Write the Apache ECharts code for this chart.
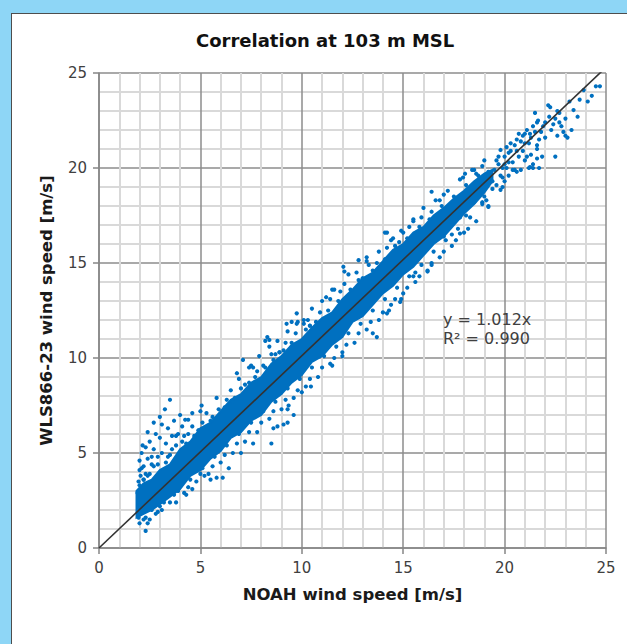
<!DOCTYPE html>
<html>
<head>
<meta charset="utf-8">
<script src="https://cdn.jsdelivr.net/npm/echarts@6/dist/echarts.min.js"></script>
<style>
  html, body { margin: 0; padding: 0; width: 627px; height: 644px; overflow: hidden; background: #8ed6f6; }
  #panel { position: absolute; left: 11px; top: 13px; width: 700px; height: 700px; background: #ffffff; border-left: 1px solid #4d4d4d; border-top: 1px solid #4d4d4d; }
  #chart { position: absolute; left: 0; top: 0; width: 627px; height: 644px; }
</style>
</head>
<body>
<div id="panel"></div>
<div id="chart"></div>
<script>
// ---- tick labels / axis ranges ----
const axisTicks = [0, 5, 10, 15, 20, 25];

// ---- dense core of the cloud ----
const bandX    = [1.85, 2.2, 2.6, 3.0, 3.5, 4.0, 4.5, 5.0, 5.5, 6.0, 6.5, 7.0, 7.5, 8.0, 8.5, 9.0, 9.5, 10.0, 10.5, 11.0, 11.5, 12.0, 12.5, 13.0, 13.5, 14.0, 14.5, 15.0, 15.5, 16.0, 16.5, 17.0, 17.5, 18.0, 18.5, 19.0, 19.4];
const bandHigh = [3.0, 3.4, 3.6, 4.1, 4.4, 5.2, 5.6, 6.3, 6.6, 7.2, 7.8, 8.1, 8.7, 9.0, 9.7, 10.1, 10.7, 11.0, 11.6, 12.1, 12.4, 13.1, 13.6, 14.2, 14.5, 15.1, 15.7, 16.0, 16.6, 16.9, 17.5, 17.9, 18.4, 18.8, 19.3, 19.7, 19.9];
const bandLow  = [1.6, 1.8, 2.0, 2.3, 2.7, 3.1, 3.8, 4.1, 4.7, 5.1, 5.8, 6.1, 6.7, 7.0, 7.7, 8.1, 8.7, 9.1, 9.8, 10.1, 10.7, 11.1, 11.9, 12.2, 12.8, 13.4, 13.8, 14.4, 14.8, 15.4, 16.0, 16.4, 17.0, 17.6, 18.1, 18.7, 19.3];

// ---- individual points around the core ----
const upperFringe = [
  [2.2,3.6],[2.7,4.3],[3.3,4.5],[3.6,5.2],[4.3,5.5],[4.6,6.4],[4.9,6.2],[5.3,7.1],[5.6,6.9],[5.8,7.9],
  [6.2,7.4],[6.5,8.3],[6.7,7.9],[6.9,8.9],[7.2,8.6],[7.5,9.6],[7.7,9.0],[7.9,10.1],[8.2,9.5],[8.4,10.6],
  [8.6,9.9],[8.8,10.9],[9.1,10.4],[9.3,11.4],[9.5,10.8],[9.8,11.9],[10.2,11.5],[10.5,12.6],[10.7,11.9],[11.0,13.0],
  [11.3,12.5],[11.5,13.6],[11.8,13.0],[12.1,13.9],[12.4,13.6],[12.7,14.5],[13.0,14.2],[13.2,15.1],[13.5,14.6],[13.8,15.6],
  [14.1,15.2],[14.4,16.2],[14.6,15.9],[14.9,16.7],[15.2,16.3],[15.5,17.2],[15.8,16.9],[16.0,17.9],[16.3,17.3],[16.6,18.3],
  [16.9,18.0],[17.2,18.8],[17.5,18.5],[17.8,19.4],[18.1,19.1],[18.4,19.9],[18.7,19.6],[19.0,20.4],
  [2.0,3.3],[2.1,4.2],[2.4,3.8],[2.6,4.8],[2.9,4.4],[3.1,5.0],[3.4,4.8],[3.8,5.9],[4.1,5.6],[4.4,6.0],
  [4.7,5.9],[5.1,6.6],[5.5,6.7],[5.9,7.3],[6.3,7.8],[6.6,7.7],[7.0,8.4],[7.4,8.7],[7.8,9.3],[8.1,9.6],
  [8.5,10.2],[8.9,10.3],[9.2,10.8],[9.7,11.3],[10.1,11.8],[10.4,11.7],[10.9,12.4],[11.4,13.1],[11.9,13.5],[12.3,14.4],
  [12.8,14.1],[13.3,14.9],[13.7,15.0],[14.2,15.8],[14.8,16.1],[15.3,16.9],[15.9,17.4],[16.4,17.7],[17.0,18.6]
];
const lowerFringe = [
  [2.3,1.6],[2.6,2.0],[2.9,1.9],[3.2,2.4],[3.5,2.4],[3.9,3.0],[4.2,2.9],[4.5,3.6],[4.8,3.5],[5.1,4.2],
  [5.4,3.9],[5.7,4.8],[6.0,4.5],[6.3,5.4],[6.6,5.0],[6.9,6.0],[7.2,5.6],[7.5,6.6],[7.8,6.1],[8.1,7.2],
  [8.4,6.8],[8.7,7.7],[9.0,7.3],[9.3,8.4],[9.6,7.9],[9.9,8.9],[10.2,8.5],[10.5,9.5],[10.8,9.0],[11.1,10.1],
  [11.4,9.7],[11.7,10.6],[12.0,10.3],[12.3,11.3],[12.6,10.8],[12.9,11.8],[13.2,11.5],[13.5,12.5],[13.8,12.0],[14.1,13.1],
  [14.4,12.8],[14.7,13.7],[15.0,13.4],[15.3,14.3],[15.6,14.0],[15.9,14.9],[16.2,14.6],[16.5,15.6],[16.8,15.3],[17.1,16.2],
  [17.4,15.9],[17.7,16.8],[18.0,16.6],[18.3,17.4],[18.6,17.2],[18.9,18.1],[19.2,18.0],
  [2.5,1.5],[3.0,2.2],[3.7,2.8],[4.4,3.2],[5.0,3.9],[5.6,4.3],[6.2,4.9],[6.8,5.5],[7.4,6.1],[8.0,6.6],
  [8.6,7.2],[9.2,7.8],[9.8,8.3],[10.4,8.9],[11.0,9.5],[11.6,10.0],[12.2,10.7],[12.8,11.3],[13.4,11.9],[14.0,12.4],
  [14.6,13.1],[15.2,13.7],[15.8,14.3],[16.4,14.9],[17.0,15.6],[17.6,16.2],[18.2,16.8]
];
const outliers = [
  // low speed, upward spread
  [2.0,4.6],[2.1,5.0],[2.2,4.3],[2.3,5.3],[2.4,4.7],[2.5,5.6],[2.3,3.9],[2.6,4.4],[2.7,5.2],[2.8,6.0],
  [2.9,4.8],[3.0,5.8],[3.1,6.5],[3.25,7.3],[3.0,6.9],[3.3,5.5],[3.4,6.3],[3.5,4.9],[3.6,5.9],[3.7,6.7],
  [3.8,5.4],[3.9,6.0],[4.0,7.0],[4.1,6.4],[4.2,5.9],[4.25,6.75],[4.4,6.75],[2.2,3.6],[2.5,3.9],[1.95,3.5],
  [2.0,4.1],[2.15,5.4],[2.4,6.1],[2.7,6.6],[3.5,7.8],[4.6,7.1],[5.0,7.2],[5.06,7.5],[1.9,2.9],[2.05,3.8],
  // low speed, downward
  [2.0,1.3],[2.3,0.9],[2.2,1.5],[2.4,1.3],[2.8,1.8],[3.1,2.0],[3.8,2.4],[4.3,2.8],[4.6,3.1],[1.95,1.6],
  [5.2,3.8],[5.5,3.6],[5.8,3.7],[6.1,3.7],[6.4,4.2],[7.0,5.0],[7.6,5.5],
  // mid upper
  [6.8,9.2],[7.1,9.9],[7.4,9.5],[7.6,9.5],[8.2,10.9],[8.3,11.1],[8.4,10.95],[8.7,10.2],[8.9,10.3],[9.25,11.8],
  [9.5,11.9],[9.75,11.8],[9.75,12.35],[10.1,12.0],[10.3,12.0],[10.4,11.7],[11.2,13.2],[11.6,13.6],[12.05,14.8],[12.1,14.55],
  [12.8,15.15],[13.2,15.3],[14.1,16.6],[14.2,16.6],[14.5,16.3],[15.0,16.6],[15.5,17.3],[16.4,18.75],[16.8,18.3],[17.95,19.5],
  [18.05,19.7],[18.5,19.9],[18.6,19.7],[18.9,20.1],[19.8,20.95],[20.1,21.1],[20.3,21.3],[20.6,21.5],[20.9,21.7],[21.25,21.8],
  // mid lower
  [8.5,5.5],[8.6,6.3],[8.8,6.4],[9.1,6.5],[9.3,6.6],[9.6,7.0],[9.3,7.3],[9.35,7.5],[10.0,8.2],[10.45,8.5],
  [11.5,9.6],[12.0,10.1],[13.5,11.3],[13.7,11.1],[14.2,12.35],[14.3,12.5],[14.85,12.95],[14.9,13.1],[15.5,14.3],[15.6,14.5],
  [16.2,14.55],[16.4,15.0],[17.0,16.4],[17.4,16.5],[17.8,16.55],[17.8,17.4],[18.1,17.5],[18.9,18.2],[19.0,18.5],[19.1,18.3],
  [19.2,17.95],[19.8,18.85],[19.9,19.0],[20.6,19.8],[20.8,19.9],[21.25,20.05],[21.4,20.2],[21.6,20.5],
  // high speed, sparse
  [19.3,19.4],[19.5,19.9],[19.6,20.4],[19.8,19.6],[20.0,20.6],[20.1,20.0],[20.3,20.9],[20.4,20.3],[20.5,21.2],[20.7,20.6],
  [20.8,21.4],[20.9,20.9],[21.0,21.8],[21.2,21.3],[21.3,20.7],[21.5,21.9],[21.7,21.5],[21.9,22.2],[22.0,21.6],[22.2,22.7],
  [22.4,22.3],[21.1,22.0],[21.6,22.4],[21.65,22.5],[21.5,22.9],[22.15,23.3],[22.25,23.2],[22.7,22.9],[23.4,23.05],[23.6,22.7],
  [23.7,23.6],[24.1,23.5],[24.3,23.8],[24.5,24.3],[24.7,24.3],[22.5,22.6],[22.7,22.4],[22.8,22.2],[22.9,21.9],[23.0,21.7],
  [23.1,21.6],[22.5,20.6],[21.7,20.0],[21.4,20.0],[21.2,20.0],[21.85,20.6],[21.6,21.0],[21.6,21.2],[19.4,18.9],[19.7,20.2],
  [20.2,19.6],[20.5,19.9],[20.0,19.3],[22.6,21.7],[23.3,22.0],[21.0,20.4],[20.2,20.3],[19.9,20.0],
  [18.3,18.9],[18.5,18.2],[18.8,19.3],[19.1,19.0],[19.2,19.8],[19.4,19.3],[19.6,19.1],[19.7,20.6],[19.9,19.5],[20.0,20.2],
  [20.2,20.8],[20.4,19.9],[20.6,20.9],[20.7,21.8],[21.0,21.3],[21.1,20.6],[21.3,21.6],[21.4,22.2],[21.8,21.9],[22.0,22.4],
  [22.3,22.0],[22.6,23.0],[23.0,22.6],[23.2,23.5],[23.9,24.1]
];

// ---- regression line and its label ----
const trendX = [0, 25];
const trendY = [0, 25.3];
const eqLines = ['y = 1.012x', 'R² = 0.990'];

const chart = echarts.init(document.getElementById('chart'), null, { renderer: 'svg' });

const FONT = "'DejaVu Sans', Verdana, sans-serif";
const pts = upperFringe.concat(lowerFringe, outliers);

function axisCfg(name, gap, rotate) {
  return {
    type: 'value', min: axisTicks[0], max: axisTicks[axisTicks.length - 1], interval: 5,
    name: name, nameLocation: 'middle', nameGap: gap, nameRotate: rotate,
    nameTextStyle: { fontFamily: FONT, fontWeight: 'bold', fontSize: 16.5, color: '#1a1a1a' },
    axisLine: { show: true, lineStyle: { color: '#868686', width: 1.5 } },
    axisTick: { show: true, length: 6, lineStyle: { color: '#868686', width: 1.5 } },
    axisLabel: { fontFamily: FONT, fontSize: 15, color: '#404040', margin: 12 },
    splitLine: { show: true, lineStyle: { color: '#8c8c8c', width: 1.5 } },
    minorTick: { show: false, splitNumber: 5 },
    minorSplitLine: { show: true, lineStyle: { color: '#d9d9d9', width: 2 } }
  };
}

const eqStyle = { fontFamily: FONT, fontWeight: 'normal', fontSize: 16, lineHeight: 17, color: '#404040' };

chart.setOption({
  backgroundColor: 'transparent',
  animation: false,
  title: [
    { text: 'Correlation at 103 m MSL', left: 191, top: 26,
      textStyle: { fontFamily: FONT, fontWeight: 'bold', fontSize: 18, color: '#111111' } },
    { text: eqLines[0], left: 438, top: 311, padding: [0, 5, 0, 5], textStyle: eqStyle },
    { text: eqLines[1], left: 438, top: 330, padding: [0, 5, 0, 5], textStyle: eqStyle }
  ],
  grid: { left: 99, right: 21, top: 73, bottom: 96, containLabel: false },
  xAxis: axisCfg('NOAH wind speed [m/s]', 38, 0),
  yAxis: axisCfg('WLS866-23 wind speed [m/s]', 44, 90),
  series: [
    {
      type: 'custom',
      data: [[bandX[0], bandLow[0]]],
      z: 2,
      renderItem: function (params, api) {
        const poly = [];
        for (let i = 0; i < bandX.length; i++) poly.push(api.coord([bandX[i], bandHigh[i]]));
        for (let i = bandX.length - 1; i >= 0; i--) poly.push(api.coord([bandX[i], bandLow[i]]));
        return { type: 'polygon', shape: { points: poly }, style: { fill: '#0070c0', stroke: '#0070c0', lineWidth: 2 } };
      }
    },
    {
      type: 'scatter', data: pts, symbol: 'circle', symbolSize: 4.2, z: 3,
      itemStyle: { color: '#0070c0', opacity: 1 }
    },
    {
      type: 'line', data: trendX.map((x, i) => [x, trendY[i]]), symbol: 'none', z: 5, clip: true,
      lineStyle: { color: '#333333', width: 1.6 }
    }
  ]
});
</script>
</body>
</html>
